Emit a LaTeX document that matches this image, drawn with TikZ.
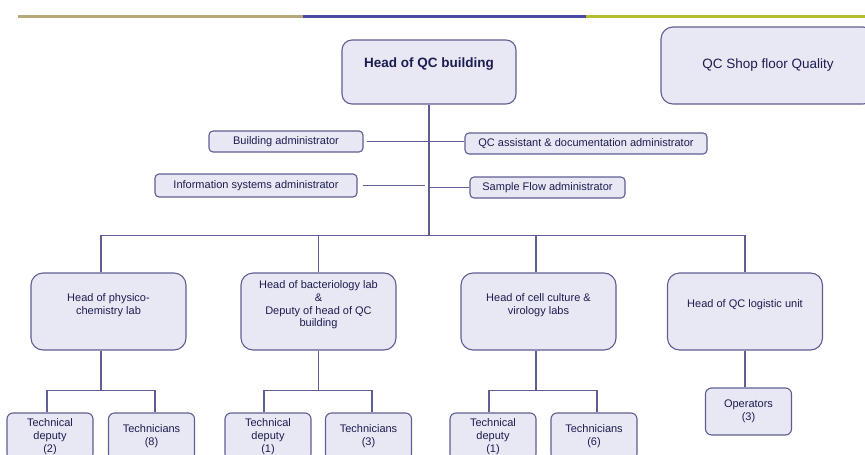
\documentclass[tikz,border=0pt]{standalone}
\usepackage{fontspec}
\setmainfont{Liberation Sans}
\definecolor{boxfill}{HTML}{E8E8F4}
\definecolor{boxline}{HTML}{5E5E92}
\definecolor{txtcol}{HTML}{1C1C50}
\definecolor{bartan}{HTML}{B8A878}
\definecolor{barnavy}{HTML}{4A4AA0}
\definecolor{bargreen}{HTML}{B4BC30}
\tikzset{
  box/.style={draw=boxline, fill=boxfill, line width=1.1pt, text=txtcol, align=center,
    inner sep=0pt, font=\fontsize{11}{12.7}\selectfont},
  adminbox/.style={box, rounded corners=4pt, minimum height=21pt},
  labbox/.style={box, rounded corners=12pt, minimum width=155pt, minimum height=77pt},
  staffbox/.style={box, rounded corners=6pt, minimum width=86pt, minimum height=47pt,
    font=\fontsize{11}{12.8}\selectfont},
  lbl/.style={text=txtcol, align=center, font=\fontsize{11}{12.7}\selectfont},
  link/.style={draw=boxline, line width=1.1pt}
}
\begin{document}
\begin{tikzpicture}[x=1pt,y=-1pt]
  \useasboundingbox (0,0) rectangle (865,455);
  \clip (0,0) rectangle (865,455);
  % 上の帯
  \draw[bartan, line width=3pt] (18,16) -- (303,16);
  \draw[barnavy, line width=3pt] (303,16) -- (586,16);
  \draw[bargreen, line width=3pt] (586,16) -- (865,16);

  % 上段
  \node[box, rounded corners=10pt, minimum width=174pt, minimum height=64pt,
        label={[lbl, yshift=8pt, font=\fontsize{13.5}{15}\selectfont\bfseries]center:Head of QC building}]
        (head) at (429,72) {};
  \node[box, rounded corners=12pt, minimum width=214pt, minimum height=77pt,
        font=\fontsize{13.5}{15}\selectfont] (shop) at (768,65.5) {QC Shop floor Quality};

  % 管理者
  \node[adminbox, minimum width=154pt] (bldg) at (286,141.5) {Building administrator};
  \node[adminbox, minimum width=242pt] (qcas) at (586,143.5) {QC assistant \& documentation administrator};
  \node[adminbox, minimum width=202pt, minimum height=23pt] (info) at (256,185.5) {Information systems administrator};
  \node[adminbox, minimum width=155pt] (samp) at (547.5,187.5) {Sample Flow administrator};

  % ラボ
  \node[labbox, label={[lbl, yshift=6.5pt]center:Head of physico-\\chemistry lab}] (phys) at (108.5,311.5) {};
  \node[labbox, label={[lbl, yshift=6.5pt]center:Head of bacteriology lab\\\&\\Deputy of head of QC\\building}] (bact) at (318.5,311.5) {};
  \node[labbox, label={[lbl, yshift=6.5pt]center:Head of cell culture \&\\virology labs}] (cell) at (538.5,311.5) {};
  \node[labbox, label={[lbl, yshift=6.5pt]center:Head of QC logistic unit}] (logi) at (745,311.5) {};

  % スタッフ
  \node[staffbox] (tdA) at (50,436.5) {Technical\\deputy\\(2)};
  \node[staffbox] (tecA) at (151.5,436.5) {Technicians\\(8)};
  \node[staffbox] (tdB) at (268,436.5) {Technical\\deputy\\(1)};
  \node[staffbox] (tecB) at (368.5,436.5) {Technicians\\(3)};
  \node[staffbox] (tdC) at (493,436.5) {Technical\\deputy\\(1)};
  \node[staffbox] (tecC) at (594,436.5) {Technicians\\(6)};
  \node[staffbox] (oper) at (748.5,411.5) {Operators\\(3)};

  % 線
  \draw[link] (head.south) -- ++(0,131) coordinate (jtop);
  \draw[link] ([xshift=3pt]bldg.east) -- (bldg.east -| qcas.west);
  \draw[link] ([xshift=5pt]info.east) -- ([xshift=-4pt]info.east -| head.south);
  \draw[link] (samp.west -| head.south) -- (samp.west);
  \draw[link] ([xshift=-7.5pt]phys.north) |- (jtop) -| (logi.north);
  \draw[link] (bact.north) -- (bact.north |- jtop);
  \draw[link] ([xshift=-2.5pt]cell.north) -- ([xshift=-2.5pt]cell.north |- jtop);

  \draw[link] ([xshift=-7.5pt]phys.south) -- ++(0,40) coordinate (ja);
  \draw[link] ([xshift=-3pt]tdA.north) |- (ja) -| ([xshift=3.5pt]tecA.north);
  \draw[link] (bact.south) -- ++(0,40) coordinate (jb);
  \draw[link] ([xshift=-4pt]tdB.north) |- (jb) -| ([xshift=3.5pt]tecB.north);
  \draw[link] ([xshift=-2.5pt]cell.south) -- ++(0,40) coordinate (jc);
  \draw[link] ([xshift=-4pt]tdC.north) |- (jc) -| ([xshift=3pt]tecC.north);
  \draw[link] (logi.south) -- (logi.south |- oper.north);
\end{tikzpicture}
\end{document}
